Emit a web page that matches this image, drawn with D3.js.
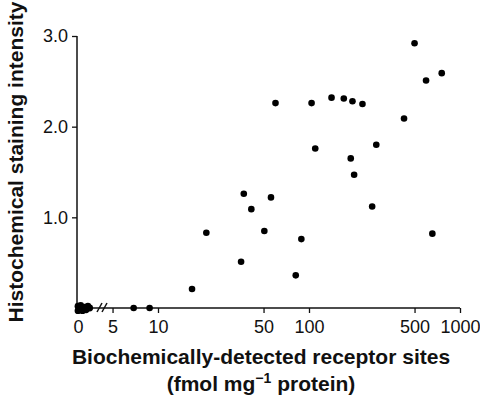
<!DOCTYPE html>
<html>
<head>
<meta charset="utf-8">
<script src="https://cdn.jsdelivr.net/npm/d3@7"></script>
<style>
  body { margin: 0; background: #fff; }
  svg { display: block; }
  .tick text { font-family: "Liberation Sans", Arial, sans-serif; font-size: 18px; fill: #111; }
  .title { font-family: "Liberation Sans", Arial, sans-serif; font-size: 21px; font-weight: bold; fill: #111; }
</style>
</head>
<body>
<svg id="chart" width="480" height="396"></svg>
<script>
// Samples with no detectable receptor sites (drawn on the linear stub before the break)
const zeroSites = [0, 0, 0.3, 0.5, 0.7, 0.9, 1.1, 1.3];
const zeroIntensity = [0.02, -0.03, 0.03, -0.03, 0.01, -0.02, 0.02, 0];

// Samples on the log part of the axis
const sites = [6.9, 8.8, 16.8, 20.9, 35.5, 37, 41.5, 50.6, 56, 60, 81.7, 89, 104, 110,
               141, 170, 189, 194, 199, 226, 262, 279, 426, 500, 596, 656, 757];
const intensity = [0, 0, 0.21, 0.83, 0.51, 1.26, 1.09, 0.85, 1.22, 2.26, 0.36, 0.76, 2.26, 1.76,
                   2.32, 2.31, 1.65, 2.28, 1.47, 2.25, 1.12, 1.80, 2.09, 2.92, 2.51, 0.82, 2.59];

// Tick labels
const zeroTicks = [0];
const logTicks = [5, 10, 50, 100, 500, 1000];
const yTicks = [1, 2, 3];

const svg = d3.select('#chart');

// Dimensions
const x0 = 77, xEnd = 460;
const yTop = 36, yBase = 308;

// Scales: short linear piece for zero values, then a log axis after the break
const xLin = d3.scaleLinear().domain([0, 2]).range([x0 + 1, x0 + 19]);
const xLog = d3.scaleLog().domain([10, 1000]).range([158, xEnd]);
const y = d3.scaleLinear().domain([0, 3]).range([yBase, yTop]);

// Axis lines
svg.append('line')
    .attr('x1', x0).attr('x2', xLog(1000))
    .attr('y1', yBase).attr('y2', yBase)
    .attr('stroke', '#111').attr('stroke-width', 1.5);
svg.append('line')
    .attr('x1', x0).attr('x2', x0)
    .attr('y1', y(3)).attr('y2', yBase)
    .attr('stroke', '#111').attr('stroke-width', 1.5);

// Bottom axes (ticks + labels)
const xLogAxis = d3.axisBottom(xLog).tickValues(logTicks).tickFormat(d3.format('d')).tickSize(5).tickPadding(7);
const xLinAxis = d3.axisBottom(xLin).tickValues(zeroTicks).tickFormat(d3.format('d')).tickSize(0).tickPadding(12);
const yAxis = d3.axisLeft(y).tickValues(yTicks).tickFormat(d3.format('.1f')).tickSize(5).tickPadding(4);

svg.append('g').attr('transform', `translate(0, ${yBase})`).call(xLogAxis);
svg.append('g').attr('transform', `translate(0, ${yBase})`).call(xLinAxis);
svg.append('g').attr('transform', `translate(${x0}, 0)`).call(yAxis);

svg.selectAll('.domain').remove();
svg.selectAll('.tick line').attr('stroke', '#111').attr('stroke-width', 1.3);

// Axis break marks
const breakX = [99, 104];
svg.selectAll('.brk')
    .data(breakX)
    .enter()
    .append('line')
        .attr('class', 'brk')
        .attr('x1', d => d - 2).attr('y1', yBase + 4)
        .attr('x2', d => d + 3).attr('y2', yBase - 5)
        .attr('stroke', '#111').attr('stroke-width', 1.5);

// Points
svg.selectAll('.zero')
    .data(zeroSites)
    .enter()
    .append('circle')
        .attr('class', 'zero')
        .attr('cx', d => xLin(d))
        .attr('cy', (d, i) => y(zeroIntensity[i]))
        .attr('r', 3.4)
        .attr('fill', '#000');

svg.selectAll('.pt')
    .data(sites)
    .enter()
    .append('circle')
        .attr('class', 'pt')
        .attr('cx', d => xLog(d))
        .attr('cy', (d, i) => y(intensity[i]))
        .attr('r', 3.3)
        .attr('fill', '#000');

// Titles
svg.append('text')
    .attr('class', 'title')
    .attr('transform', 'translate(23, 162) rotate(-90)')
    .attr('text-anchor', 'middle')
    .text('Histochemical staining intensity');

svg.append('text')
    .attr('class', 'title')
    .attr('x', 261).attr('y', 364)
    .attr('text-anchor', 'middle')
    .text('Biochemically-detected receptor sites');

const sub = svg.append('text')
    .attr('class', 'title')
    .attr('x', 261).attr('y', 391)
    .attr('text-anchor', 'middle');
sub.append('tspan').text('(fmol mg');
sub.append('tspan').attr('dy', -8).style('font-size', '14px').text('\u22121');
sub.append('tspan').attr('dy', 8).text(' protein)');
</script>
</body>
</html>
